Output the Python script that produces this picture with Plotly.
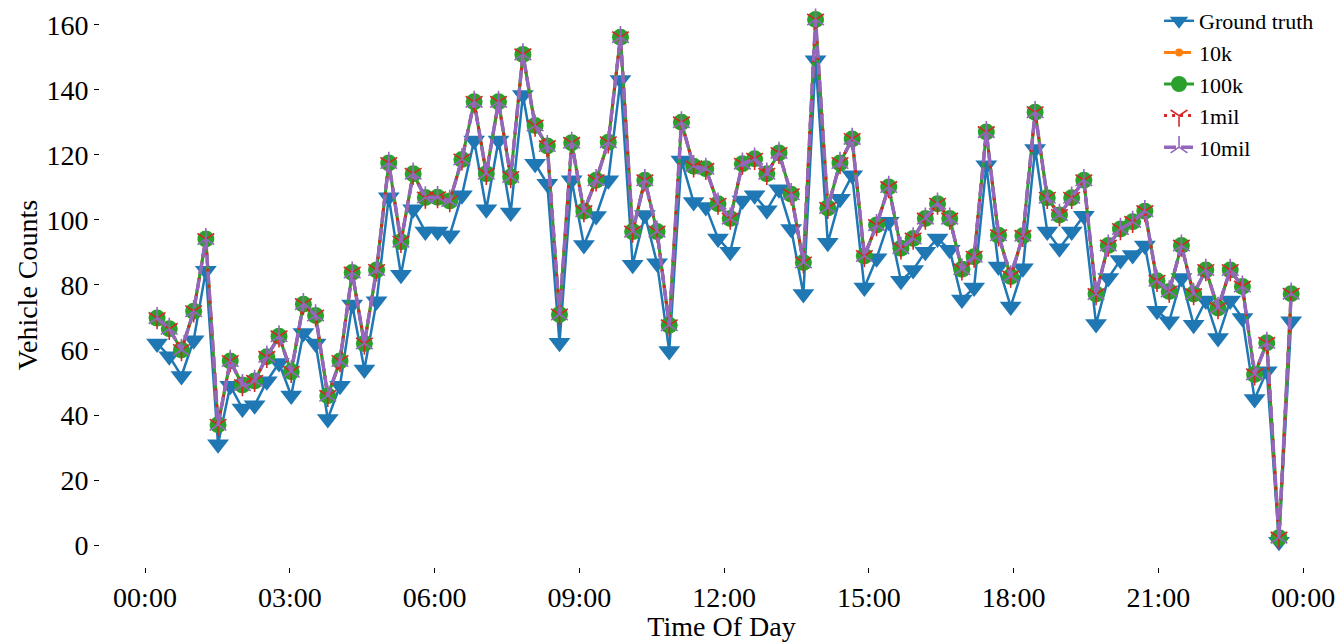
import pandas as pd
import plotly.graph_objects as go

# Time stamps: 94 samples between 00:15 and 23:45
times = pd.date_range("2020-01-01 00:15", "2020-01-01 23:45", periods=94)

ground_truth = [
    62, 58.1, 52, 63, 84.4, 31, 49, 42, 43, 50.4,
    56, 46, 65.2, 62, 38.8, 49, 74, 54, 75, 107,
    83.1, 103.3, 96.4, 96.4, 95.3, 107.6, 124.4, 103.3, 124.4, 102.3,
    138.4, 117.3, 111.1, 62.2, 112.2, 92.3, 101.2, 112.2, 143, 86.2,
    101.5, 86.7, 59.7, 118.3, 105.5, 104, 94.3, 90.2, 106, 107.6,
    103, 109.4, 97.2, 77.2, 149.1, 93, 106.5, 113.7, 79.2, 88.2,
    99.4, 81.3, 84.6, 90.2, 94.3, 90.8, 75.5, 79.2, 116.8, 85.7,
    73.4, 85.1, 121.8, 96.4, 91.3, 96.4, 101.3, 68, 82.1, 87.7,
    89.2, 92.1, 72.1, 68.8, 82.1, 67.8, 75.2, 63.7, 75.2, 69.8,
    44.9, 53.5, 1.0, 68.8,
]

# The four model predictions overlap completely at this resolution
pred_100k = [
    69.8, 66.5, 60.0, 71.9, 94.1, 37.0, 56.6, 49.2, 50.5, 57.9,
    64.2, 53.3, 74.1, 70.6, 45.9, 56.6, 83.8, 62.0, 84.6, 117.5,
    93.3, 114.2, 106.9, 107.0, 105.8, 118.6, 136.3, 114.2, 136.3, 113.2,
    150.9, 129.0, 122.7, 70.9, 123.7, 102.7, 112.2, 123.9, 156.2, 96.4,
    112.2, 96.4, 67.6, 130.0, 116.5, 115.7, 105.0, 100.4, 117.3, 118.8,
    114.2, 120.6, 107.9, 86.9, 161.6, 103.7, 117.5, 124.9, 88.9, 98.4,
    110.1, 91.3, 94.3, 100.4, 105.0, 100.4, 84.8, 88.7, 127.0, 95.3,
    82.6, 95.1, 133.1, 106.8, 101.5, 106.8, 112.2, 77.2, 92.1, 97.2,
    99.4, 102.7, 81.3, 78.0, 92.1, 77.2, 84.6, 72.9, 84.6, 79.5,
    52.5, 62.2, 2.3, 77.3,
]
pred_10k = list(pred_100k)
pred_1mil = list(pred_100k)
pred_10mil = list(pred_100k)

y_ticks = [0, 20, 40, 60, 80, 100, 120, 140, 160]

FONT = "Liberation Serif"

fig = go.Figure()
fig.add_trace(go.Scatter(
    x=times, y=ground_truth, name="Ground truth", mode="lines+markers",
    line=dict(color="#1f77b4", width=2.5),
    marker=dict(symbol="triangle-down", size=19, color="#1f77b4"),
))
fig.add_trace(go.Scatter(
    x=times, y=pred_10k, name="10k", mode="lines+markers",
    line=dict(color="#ff7f0e", width=3, dash="11px,5px"),
    marker=dict(symbol="circle", size=8, color="#ff7f0e"),
))
fig.add_trace(go.Scatter(
    x=times, y=pred_100k, name="100k", mode="lines+markers",
    line=dict(color="#2ca02c", width=3),
    marker=dict(symbol="circle", size=17, color="#2ca02c"),
))
fig.add_trace(go.Scatter(
    x=times, y=pred_1mil, name="1mil", mode="lines+markers",
    line=dict(color="#d62728", width=3, dash="3px,5px"),
    marker=dict(symbol="y-down-open", size=14, color="#d62728",
                line=dict(color="#d62728", width=1.6)),
))
fig.add_trace(go.Scatter(
    x=times, y=pred_10mil, name="10mil", mode="lines+markers",
    line=dict(color="#9467bd", width=3.5, dash="12px,5px"),
    marker=dict(symbol="y-up-open", size=14, color="#9467bd",
                line=dict(color="#9467bd", width=1.6)),
))

fig.update_layout(
    width=1343, height=642,
    margin=dict(l=100, r=0, t=0, b=75),
    paper_bgcolor="white", plot_bgcolor="white",
    font=dict(family=FONT, size=28, color="black"),
    showlegend=True,
    legend=dict(
        x=0.852, y=1.006, xanchor="left", yanchor="top",
        font=dict(family=FONT, size=22, color="black"),
        bgcolor="rgba(255,255,255,0)", borderwidth=0,
    ),
    xaxis=dict(
        type="date",
        range=["2019-12-31 23:04:03", "2020-01-02 00:49:26"],
        tick0="2020-01-01 00:00", dtick=3 * 3600 * 1000,
        tickformat="%H:%M",
        ticks="outside", ticklen=5, tickcolor="black", tickwidth=1,
        showgrid=False, zeroline=False, showline=False,
        tickfont=dict(family=FONT, size=28),
        title=dict(text="Time Of Day", font=dict(family=FONT, size=28), standoff=4),
    ),
    yaxis=dict(
        range=[-6.73, 166.7],
        tickvals=y_ticks,
        ticks="outside", ticklen=5, tickcolor="black", tickwidth=1,
        showgrid=False, zeroline=False, showline=False,
        tickfont=dict(family=FONT, size=28),
        title=dict(text="Vehicle Counts", font=dict(family=FONT, size=28), standoff=0),
    ),
)

fig.write_html(
    "out.html",
    config={"displayModeBar": False},
    post_script="document.body.style.margin='0px';document.body.style.padding='0px';",
)
